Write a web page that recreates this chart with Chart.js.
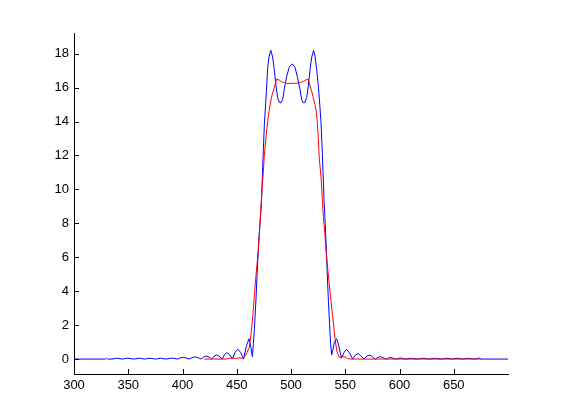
<!DOCTYPE html>
<html>
<head>
<meta charset="utf-8">
<script src="https://cdn.jsdelivr.net/npm/chart.js@4/dist/chart.umd.min.js"></script>
<style>
  body { margin: 0; background: #fff; }
  #wrap { width: 561px; height: 420px; }
</style>
</head>
<body>
<div id="wrap"><canvas id="grafico"></canvas></div>
<script>
// Curva azul (respuesta con rizado)
var azulX = [300, 329, 330, 331, 335, 339.5, 344.5, 349.6, 355, 360, 365, 370, 375, 380, 385, 390, 395.5,
  398, 400.7, 403, 406, 409, 411.5, 414, 417, 419.5, 422, 424.5, 427, 429, 431.5, 434, 436.5, 438.8, 441, 443.5,
  446, 448.5, 451, 453.5, 456.3, 458.8, 461.3, 463, 464.4, 465.3, 466.2, 467.8, 468.7, 469.9, 470.8, 472.7,
  473.6, 474.5, 475.5, 476.7, 477.6, 478.5, 479.7, 481.4, 483.1, 484.6, 486.2, 487.7, 489.2, 490.8, 492.3,
  493.8, 496, 498.4, 501.2, 503.7, 505.8, 508.3, 509.8, 511.3, 512.9, 514.4, 516, 517.5, 519.1, 520.8, 522.3,
  523.7, 525.2, 526.5, 527.6, 528.6, 529.5, 530.5, 531.6, 532.5, 533.5, 534.5, 535.5, 536.5, 537.5, 538.5,
  540, 542, 544, 546.5, 549, 551.3, 554, 556.8, 559.5, 562, 565, 567.3, 570, 572.8, 576, 578, 580, 582.7,
  586, 588, 590, 592, 595, 597, 599.5, 602, 605, 611, 616, 622, 627, 633, 638, 643, 648, 653, 658, 663.5,
  668, 674, 675, 700];
var azulY = [0, 0, 0.06, 0, 0, 0.05, 0, 0.05, 0, 0.05, 0, 0.05, 0, 0.05, 0, 0.06, 0,
  0.07, 0.1, 0.07, 0, 0.09, 0.13, 0.09, 0, 0.12, 0.18, 0.12, 0, 0.17, 0.25, 0.17, 0, 0.27, 0.38, 0.25,
  0, 0.4, 0.58, 0.4, 0, 0.75, 1.2, 0.7, 0.15, 0.9, 1.7, 3.6, 5, 6.35, 7.5, 9.1,
  10.7, 12.3, 13.9, 15.1, 16.1, 17.2, 17.8, 18.2, 17.8, 17.05, 16.1, 15.4, 15.14, 15.1, 15.3,
  15.9, 16.65, 17.2, 17.4, 17.2, 16.65, 15.9, 15.3, 15.1, 15.14, 15.4, 16.1, 17.05, 17.8, 18.2, 17.8,
  17.05, 16.1, 15.0, 14.0, 12.6, 11.0, 9.3, 7.9, 6.6, 4.9, 3.4, 2.1, 0.9, 0.25, 0.5,
  1.0, 1.2, 0.8, 0.05, 0.4, 0.58, 0.35, 0, 0.25, 0.33, 0.15, 0, 0.18, 0.23, 0.08, 0, 0.1, 0.14,
  0.05, 0, 0.07, 0.1, 0.03, 0, 0.05, 0.06, 0, 0.05, 0, 0.05, 0, 0.05, 0, 0.05, 0, 0.05, 0, 0.05,
  0, 0.06, 0, 0];

// Curva roja (respuesta suavizada)
var rojoX = [420, 440, 443, 447, 450, 452, 455, 457.6, 459.5, 461.6, 463, 464.5, 466, 467.5, 469, 470.8,
  472.3, 473.6, 474.5, 475.4, 476.7, 477.6, 478.5, 479.7, 481, 482.3, 483.7, 485.3, 486.8, 489, 491.4,
  494, 496, 501.4, 506.7, 509, 511.3, 513.5, 515.9, 517.5, 519, 520.6, 522, 523, 524.2, 525.2, 526.1,
  527.7, 528.9, 529.8, 531.1, 532.3, 533.4, 535.3, 537.5, 539, 540.6, 542.1, 544.5, 547, 549.8, 552,
  555, 675];
var rojoY = [0, 0, 0.05, 0.06, 0.03, 0.08, 0.04, 0.17, 0.4, 0.7, 1.4, 2.3, 3.5, 4.8, 5.8, 7.3,
  9.0, 10.3, 11.0, 12.0, 12.9, 13.5, 14.0, 14.6, 15.1, 15.5, 15.8, 16.2, 16.5, 16.45, 16.35,
  16.28, 16.25, 16.25, 16.27, 16.3, 16.36, 16.45, 16.5, 16.1, 15.8, 15.4, 15.0, 14.7, 14.0, 13.0, 11.8,
  10.7, 9.4, 8.4, 7.5, 6.4, 5.6, 4.4, 3.0, 2.2, 1.2, 0.5, 0.08, 0.15, 0.13, 0.03,
  0, 0];

// Marcas de los ejes
var ticksX = [300, 350, 400, 450, 500, 550, 600, 650];
var ticksY = [0, 2, 4, 6, 8, 10, 12, 14, 16, 18];

function puntos(xs, ys) {
    return xs.map(function (x, i) { return { x: x, y: ys[i] }; });
}

// Marcas hacia dentro, como en MATLAB
var marcasInternas = {
    id: 'marcasInternas',
    afterDraw: function (chart) {
        var ctx = chart.ctx;
        var area = chart.chartArea;
        var sx = chart.scales.x;
        var sy = chart.scales.y;
        ctx.save();
        ctx.strokeStyle = '#000';
        ctx.lineWidth = 1;
        ctx.beginPath();
        ticksX.forEach(function (v) {
            var px = Math.round(sx.getPixelForValue(v)) + 0.5;
            ctx.moveTo(px, area.bottom);
            ctx.lineTo(px, area.bottom - 5);
        });
        ticksY.forEach(function (v) {
            var py = Math.round(sy.getPixelForValue(v)) + 0.5;
            ctx.moveTo(area.left, py);
            ctx.lineTo(area.left + 5, py);
        });
        ctx.stroke();
        ctx.restore();
    }
};

Chart.defaults.font.family = "'Liberation Sans', Arial, sans-serif";
Chart.defaults.font.size = 13;
Chart.defaults.color = '#000';

new Chart(document.getElementById('grafico').getContext('2d'), {
    type: 'line',
    data: {
        datasets: [{
            data: puntos(rojoX, rojoY),
            borderColor: '#ff0000',
            borderWidth: 1,
            pointRadius: 0,
            tension: 0,
            fill: false
        }, {
            data: puntos(azulX, azulY),
            borderColor: '#0000ff',
            borderWidth: 1,
            pointRadius: 0,
            tension: 0,
            fill: false
        }]
    },
    options: {
        responsive: true,
        maintainAspectRatio: false,
        animation: false,
        layout: { padding: { left: 0, top: 33, right: 53, bottom: 0 } },
        plugins: {
            legend: { display: false },
            tooltip: { enabled: false }
        },
        scales: {
            x: {
                type: 'linear',
                min: 300,
                max: 700,
                afterFit: function (s) { s.height = 46; },
                border: { display: true, color: '#000', width: 1 },
                grid: { drawOnChartArea: false, drawTicks: false },
                ticks: {
                    stepSize: 50,
                    padding: 4,
                    maxRotation: 0,
                    callback: function (v) { return ticksX.indexOf(v) >= 0 ? String(v) : ''; }
                }
            },
            y: {
                type: 'linear',
                min: -0.88,
                max: 19.22,
                afterFit: function (s) { s.width = 74; },
                border: { display: true, color: '#000', width: 1 },
                grid: { drawOnChartArea: false, drawTicks: false },
                ticks: {
                    stepSize: 2,
                    includeBounds: false,
                    padding: 5,
                    callback: function (v) { return ticksY.indexOf(v) >= 0 ? String(v) : ''; }
                }
            }
        }
    },
    plugins: [marcasInternas]
});
</script>
</body>
</html>
